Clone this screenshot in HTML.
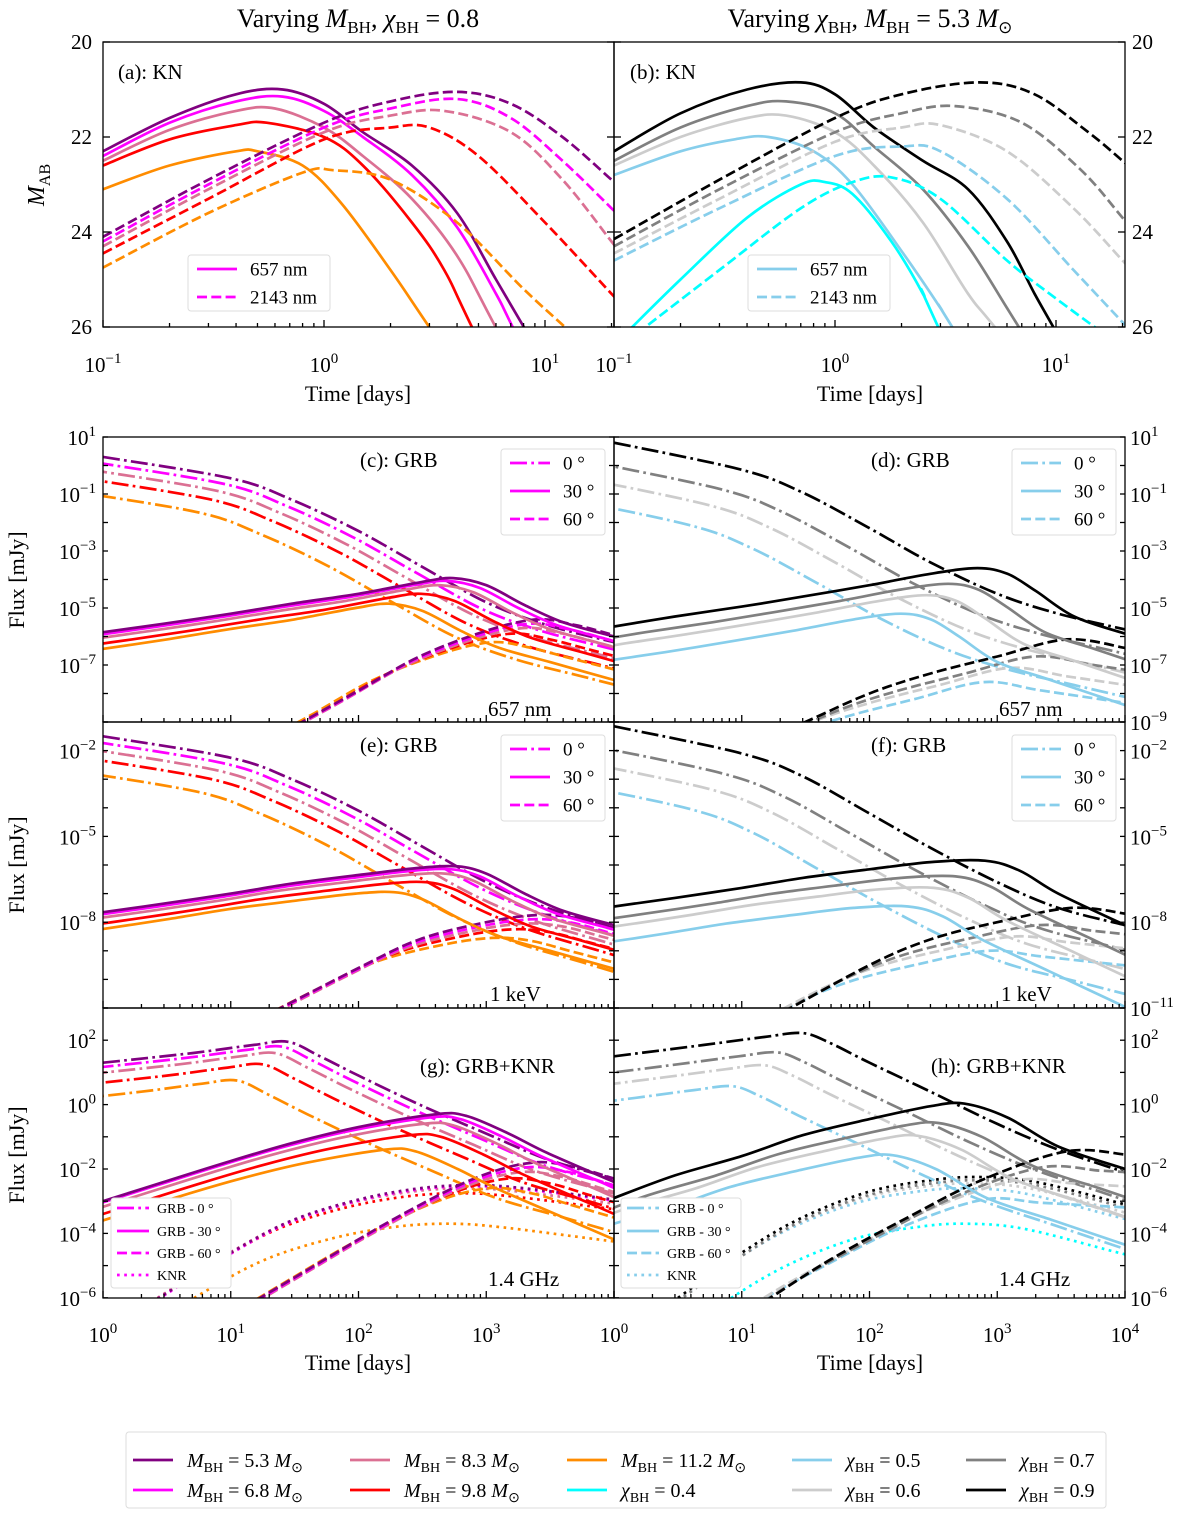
<!DOCTYPE html>
<html><head><meta charset="utf-8">
<style>
html,body{margin:0;padding:0;background:#fff;}
svg{display:block;font-family:"Liberation Serif",serif;}
</style></head>
<body>
<svg id="fig" width="1200" height="1513" viewBox="0 0 1200 1513" xmlns="http://www.w3.org/2000/svg">
<rect x="0" y="0" width="1200" height="1513" fill="#fff"/>
<text x="358" y="27" text-anchor="middle" font-size="26">Varying <tspan font-style="italic">M</tspan><tspan font-size="17" dy="6">BH</tspan><tspan dy="-6">, </tspan><tspan font-style="italic">χ</tspan><tspan font-size="17" dy="6">BH</tspan><tspan dy="-6"> = 0.8</tspan></text>
<text x="870" y="27" text-anchor="middle" font-size="26">Varying <tspan font-style="italic">χ</tspan><tspan font-size="17" dy="6">BH</tspan><tspan dy="-6">, </tspan><tspan font-style="italic">M</tspan><tspan font-size="17" dy="6">BH</tspan><tspan dy="-6"> = 5.3 </tspan><tspan font-style="italic">M</tspan><tspan font-size="17" dy="6">⊙</tspan></text>
<text transform="translate(44,185) rotate(-90)" text-anchor="middle" font-size="24"><tspan font-style="italic">M</tspan><tspan font-size="16" dy="6">AB</tspan></text>
<text transform="translate(24,580) rotate(-90)" text-anchor="middle" font-size="22">Flux [mJy]</text>
<text transform="translate(24,865) rotate(-90)" text-anchor="middle" font-size="22">Flux [mJy]</text>
<text transform="translate(24,1155) rotate(-90)" text-anchor="middle" font-size="22">Flux [mJy]</text>
<text x="358" y="401" text-anchor="middle" font-size="22">Time [days]</text>
<text x="870" y="401" text-anchor="middle" font-size="22">Time [days]</text>
<text x="358" y="1370" text-anchor="middle" font-size="22">Time [days]</text>
<text x="870" y="1370" text-anchor="middle" font-size="22">Time [days]</text>
<g id="plots"></g>
<g id="anno" font-size="21">
<text x="118" y="79">(a): KN</text>
<text x="630" y="79">(b): KN</text>
<text x="360" y="467">(c): GRB</text>
<text x="871" y="467">(d): GRB</text>
<text x="360" y="752">(e): GRB</text>
<text x="871" y="752">(f): GRB</text>
<text x="420" y="1073">(g): GRB+KNR</text>
<text x="931" y="1073">(h): GRB+KNR</text>
<text x="488" y="716">657 nm</text>
<text x="999" y="716">657 nm</text>
<text x="490" y="1001">1 keV</text>
<text x="1001" y="1001">1 keV</text>
<text x="488" y="1286">1.4 GHz</text>
<text x="999" y="1286">1.4 GHz</text>
</g>
<g id="legends"></g>
</svg>
<script>
const leftColors=['#800080','#ff00ff','#db7093','#ff0000','#ff8c00'];
const rightColors=['#000000','#808080','#cccccc','#87ceeb','#00ffff'];
const aSolid=[
 [[0.1,22.3],[0.2,21.6],[0.4,21.1],[0.65,21.0],[1.0,21.3],[1.5,21.9],[2.5,22.6],[4,23.6],[6,25.0],[8.5,26.2]],
 [[0.1,22.4],[0.2,21.7],[0.4,21.25],[0.65,21.15],[1.0,21.45],[1.5,22.0],[2.5,22.8],[4,23.9],[6,25.3],[7.5,26.2]],
 [[0.1,22.5],[0.2,21.85],[0.4,21.45],[0.6,21.4],[1.0,21.8],[1.5,22.4],[2.5,23.3],[4,24.5],[6.3,26.2]],
 [[0.1,22.6],[0.2,22.05],[0.4,21.75],[0.55,21.7],[1.0,22.0],[1.5,22.6],[2.5,23.8],[3.5,24.8],[4.9,26.2]],
 [[0.1,23.1],[0.2,22.6],[0.4,22.3],[0.5,22.3],[0.8,22.6],[1.2,23.4],[2.0,24.8],[3.2,26.2]]];
const aDashed=[
 [[0.1,24.1],[0.3,22.9],[1,21.7],[2,21.25],[4,21.05],[7,21.3],[12,22.0],[20,22.9]],
 [[0.1,24.2],[0.3,23.0],[1,21.8],[2,21.4],[4,21.2],[7,21.6],[12,22.5],[20,23.5]],
 [[0.1,24.3],[0.3,23.1],[1,21.9],[2,21.55],[3.5,21.45],[7,21.9],[12,22.9],[20,24.2]],
 [[0.1,24.45],[0.3,23.3],[1,22.05],[2,21.8],[3,21.8],[5,22.4],[10,23.8],[20,25.3]],
 [[0.1,24.75],[0.3,23.6],[0.8,22.75],[1.1,22.7],[2,22.9],[4,23.8],[8,25.2],[13,26.1]]];
const bSolid=[
 [[0.1,22.3],[0.2,21.5],[0.4,21.0],[0.7,20.85],[1.0,21.1],[1.5,21.8],[2.5,22.5],[4,23.1],[6,24.2],[8,25.3],[10,26.1]],
 [[0.1,22.5],[0.2,21.8],[0.4,21.35],[0.6,21.25],[1,21.5],[1.5,22.2],[2.5,23.1],[4,24.3],[6,25.6],[7,26.1]],
 [[0.1,22.6],[0.2,22.0],[0.4,21.6],[0.6,21.55],[1,21.9],[1.5,22.6],[2.5,23.8],[4,25.3],[5.5,26.1]],
 [[0.1,22.8],[0.2,22.3],[0.35,22.05],[0.5,22.0],[0.8,22.3],[1.2,23.0],[2,24.4],[3,25.6],[3.5,26.1]],
 [[0.115,26.1],[0.2,25.0],[0.4,23.7],[0.7,23.0],[0.9,22.95],[1.2,23.2],[1.8,24.2],[2.5,25.3],[3,26.1]]];
const bDashed=[
 [[0.1,24.15],[0.3,22.9],[1,21.6],[2,21.1],[4.5,20.85],[8,21.1],[14,21.9],[20,22.5]],
 [[0.1,24.3],[0.3,23.1],[1,21.9],[2,21.5],[3.5,21.35],[7,21.7],[13,22.7],[20,23.7]],
 [[0.1,24.45],[0.3,23.3],[1,22.1],[2,21.8],[3,21.75],[6,22.3],[12,23.5],[20,24.6]],
 [[0.1,24.6],[0.3,23.5],[1,22.4],[2,22.2],[3,22.3],[6,23.3],[12,24.8],[20,25.9]],
 [[0.13,26.1],[0.3,24.8],[0.7,23.5],[1.2,22.95],[1.8,22.85],[3,23.3],[6,24.6],[10,25.4],[16,26.1]]];
const cDashDot=[[1,0.3],[10,-0.45],[30,-1.2],[100,-2.3],[300,-3.5],[1000,-4.8],[3000,-5.6],[10000,-6.2]];
const cSolid=[[1,-5.85],[3,-5.55],[10,-5.2],[30,-4.85],[100,-4.5],[300,-4.1],[550,-3.95],[1000,-4.2],[2000,-4.9],[4000,-5.5],[10000,-6.0]];
const cDashed=[[30,-9.2],[100,-7.9],[300,-6.7],[1000,-5.8],[2500,-5.4],[5000,-5.6],[10000,-5.95]];
const eDashDot=[[1,-1.5],[10,-2.25],[30,-3.0],[100,-4.1],[300,-5.3],[1000,-6.6],[3000,-7.5],[10000,-8.2]];
const eSolid=[[1,-7.65],[3,-7.35],[10,-7.0],[30,-6.65],[100,-6.35],[300,-6.1],[600,-6.05],[1000,-6.3],[2000,-7.0],[4000,-7.6],[10000,-8.1]];
const eDashed=[[20,-11.2],[100,-9.6],[300,-8.6],[1000,-8.0],[2500,-7.75],[5000,-7.85],[10000,-8.2]];
const leftDashDotDx=[0,-0.05,-0.1,-0.15,-0.25], leftDashDotDy=[0,-0.2,-0.45,-0.75,-1.2];
const leftSolidDx=[0,-0.05,-0.1,-0.25,-0.5], leftSolidDy=[0,-0.1,-0.25,-0.55,-0.9];
const leftDashedDx=[0,-0.05,-0.1,-0.2,-0.35], leftDashedDy=[0,-0.15,-0.3,-0.5,-0.8];
const dDashDot=[[1,0.8],[10,-0.15],[30,-0.95],[100,-2.2],[300,-3.4],[1000,-4.5],[3000,-5.2],[10000,-5.75]];
const dSolid=[[1,-5.65],[3,-5.3],[10,-4.95],[30,-4.6],[100,-4.2],[300,-3.8],[700,-3.6],[1200,-3.8],[2000,-4.4],[4000,-5.3],[10000,-5.9]];
const dDashed=[[25,-9.2],[100,-8.0],[300,-7.3],[1000,-6.7],[3500,-6.1],[10000,-6.4]];
const fDashDot=[[1,-1.15],[10,-2.1],[30,-2.9],[100,-4.2],[300,-5.4],[1000,-6.6],[3000,-7.5],[10000,-8.1]];
const fSolid=[[1,-7.45],[3,-7.15],[10,-6.8],[30,-6.45],[100,-6.15],[300,-5.9],[800,-5.85],[1500,-6.2],[3000,-7.0],[10000,-8.1]];
const fDashed=[[20,-11.2],[100,-9.5],[300,-8.6],[1000,-8.0],[3800,-7.5],[10000,-7.7]];
const rightDashDotDx=[0,-0.15,-0.25,-0.4], rightDashDotDy=[0,-0.7,-1.25,-1.95];
const rightSolidDx=[0,-0.23,-0.4,-0.6], rightSolidDy=[0,-0.55,-0.95,-1.6];
const rightDashedDx=[0,-0.25,-0.45,-0.65], rightDashedDy=[0,-0.6,-1.0,-1.5];
const gDashDot=[[1,1.3],[5,1.6],[15,1.85],[28,1.95],[50,1.5],[100,0.9],[300,0.0],[1000,-0.9],[3000,-1.7],[10000,-2.3]];
const gSolid=[[1,-3.0],[3,-2.4],[10,-1.75],[30,-1.2],[100,-0.7],[400,-0.3],[700,-0.35],[1500,-0.9],[3000,-1.5],[10000,-2.4]];
const gDashed=[[14,-6.2],[50,-4.9],[200,-3.5],[800,-2.3],[2300,-1.8],[5000,-1.95],[10000,-2.3]];
const gDotted=[[3,-5.9],[10,-4.6],[30,-3.6],[100,-2.95],[300,-2.6],[800,-2.5],[2000,-2.6],[10000,-2.95]];
const gDashDotDx=[0,-0.05,-0.1,-0.2,-0.4], gDashDotDy=[0,-0.15,-0.35,-0.7,-1.2];
const gSolidDx=[0,-0.05,-0.1,-0.2,-0.4], gSolidDy=[0,-0.1,-0.3,-0.65,-1.1];
const gDashedDx=[0,-0.05,-0.1,-0.2,-0.35], gDashedDy=[0,-0.15,-0.3,-0.5,-0.8];
const gDottedDx=[0,0,-0.05,-0.1,-0.2], gDottedDy=[0,-0.03,-0.1,-0.25,-1.2];
const hDashDot=[[1,1.5],[5,1.85],[15,2.1],[30,2.22],[50,1.9],[100,1.3],[300,0.4],[1000,-0.6],[3000,-1.4],[10000,-2.1]];
const hSolid=[[1,-2.9],[3,-2.2],[10,-1.6],[30,-0.95],[100,-0.45],[300,-0.05],[550,0.03],[1200,-0.4],[3000,-1.3],[10000,-2.0]];
const hDashed=[[14,-6.2],[50,-4.8],[200,-3.5],[800,-2.3],[3500,-1.45],[10000,-1.55]];
const hDotted=[[2.7,-6.2],[10,-4.6],[30,-3.5],[100,-2.7],[300,-2.35],[700,-2.25],[2000,-2.4],[10000,-3.1]];
const hDashDotDx=[0,-0.2,-0.3,-0.55], hDashDotDy=[0,-0.6,-1.0,-1.65];
const hSolidDx=[0,-0.2,-0.36,-0.56], hSolidDy=[0,-0.6,-1.0,-1.6];
const hDashedDx=[0,-0.2,-0.4,-0.65], hDashedDy=[0,-0.5,-0.9,-1.5];
const hDottedDx=[0,0,-0.05,-0.1,-0.1], hDottedDy=[0,-0.1,-0.2,-0.35,-1.45];
const cTicksL=[1,-1,-3,-5,-7], dTicksR=[1,-1,-3,-5,-7,-9];
const eTicksL=[-2,-5,-8], fTicksR=[-2,-5,-8,-11];
const gTicksL=[2,0,-2,-4,-6], hTicksR=[2,0,-2,-4,-6];
const magTicks=[20,22,24,26];

const NS='http://www.w3.org/2000/svg';
function el(tag,attrs,parent){const e=document.createElementNS(NS,tag);for(const k in attrs)e.setAttribute(k,attrs[k]);parent.appendChild(e);return e;}
function panel(x0,x1,y0,y1,lx0,dec,vtop,pxu,lin){
  return {x0,x1,y0,y1,lx0,dec,vtop,pxu,lin,lx1:lx0+(x1-x0)/dec,
    X(lt){return this.x0+(lt-this.lx0)*this.dec;},
    Y(v){return this.y0+(this.lin?(v-this.vtop):(this.vtop-v))*this.pxu;}};
}
const P={
 a:panel(103,614,42,327,-1,221,20,47.5,true), b:panel(614,1125,42,327,-1,221,20,47.5,true),
 c:panel(103,614,437,722,0,127.75,1,28.5,false), d:panel(614,1125,437,722,0,127.75,1,28.5,false),
 e:panel(103,614,722,1008,0,127.75,-1,28.6,false), f:panel(614,1125,722,1008,0,127.75,-1,28.6,false),
 g:panel(103,614,1008,1298,0,127.75,3,32.2,false), h:panel(614,1125,1008,1298,0,127.75,3,32.2,false)};
const plots=document.getElementById('plots');
const defs=el('defs',{},plots);
for(const k in P){const p=P[k];const cp=el('clipPath',{id:'clip-'+k},defs);el('rect',{x:p.x0,y:p.y0,width:p.x1-p.x0,height:p.y1-p.y0},cp);}

const DASH={solid:'',dashed:'10 4.3',dashdot:'17 4.3 2.7 4.3',dotted:'2.7 4.5'};
function pathD(pts){
  let d='M'+pts[0][0].toFixed(1)+','+pts[0][1].toFixed(1);
  for(let i=0;i<pts.length-1;i++){
    const p0=pts[i-1]||pts[i],p1=pts[i],p2=pts[i+1],p3=pts[i+2]||p2;
    const c1=[p1[0]+(p2[0]-p0[0])/6,p1[1]+(p2[1]-p0[1])/6];
    const c2=[p2[0]-(p3[0]-p1[0])/6,p2[1]-(p3[1]-p1[1])/6];
    d+=' C'+c1[0].toFixed(1)+','+c1[1].toFixed(1)+' '+c2[0].toFixed(1)+','+c2[1].toFixed(1)+' '+p2[0].toFixed(1)+','+p2[1].toFixed(1);
  }
  return d;
}
function drawCurve(key,data,dx,dy,color,style,name){
  const p=P[key];
  let L=data.map(q=>[Math.log10(q[0])+dx,q[1]+dy]);
  if(L[0][0]>p.lx0){const s=(L[1][1]-L[0][1])/(L[1][0]-L[0][0]);const x=p.lx0-0.05;L.unshift([x,L[0][1]+s*(x-L[0][0])]);}
  const n=L.length;
  if(L[n-1][0]<p.lx1){const s=(L[n-1][1]-L[n-2][1])/(L[n-1][0]-L[n-2][0]);const x=p.lx1+0.05;L.push([x,L[n-1][1]+s*(x-L[n-1][0])]);}
  const pts=L.map(q=>[p.X(q[0]),p.Y(q[1])]);
  const path=el('path',{d:pathD(pts),fill:'none',stroke:color,'stroke-width':2.7,'clip-path':'url(#clip-'+key+')'},plots);
  if(DASH[style])path.setAttribute('stroke-dasharray',DASH[style]);
  
  
}
function group(key,base,dxs,dys,colors,style,label){
  for(let i=dxs.length-1;i>=0;i--)drawCurve(key,base,dxs[i],dys[i],colors[i],style,key+'-'+label+'-'+i);
}
for(let i=4;i>=0;i--){drawCurve('a',aSolid[i],0,0,leftColors[i],'solid','a-657nm-'+i);}
for(let i=4;i>=0;i--){drawCurve('a',aDashed[i],0,0,leftColors[i],'dashed','a-2143nm-'+i);}
for(let i=4;i>=0;i--){drawCurve('b',bSolid[i],0,0,rightColors[i],'solid','b-657nm-'+i);}
for(let i=4;i>=0;i--){drawCurve('b',bDashed[i],0,0,rightColors[i],'dashed','b-2143nm-'+i);}
group('c',cDashDot,leftDashDotDx,leftDashDotDy,leftColors,'dashdot','0deg');
group('c',cDashed,leftDashedDx,leftDashedDy,leftColors,'dashed','60deg');
group('c',cSolid,leftSolidDx,leftSolidDy,leftColors,'solid','30deg');
group('e',eDashDot,leftDashDotDx,leftDashDotDy,leftColors,'dashdot','0deg');
group('e',eDashed,leftDashedDx,leftDashedDy,leftColors,'dashed','60deg');
group('e',eSolid,leftSolidDx,leftSolidDy,leftColors,'solid','30deg');
group('d',dDashDot,rightDashDotDx,rightDashDotDy,rightColors,'dashdot','0deg');
group('d',dDashed,rightDashedDx,rightDashedDy,rightColors,'dashed','60deg');
group('d',dSolid,rightSolidDx,rightSolidDy,rightColors,'solid','30deg');
group('f',fDashDot,rightDashDotDx,rightDashDotDy,rightColors,'dashdot','0deg');
group('f',fDashed,rightDashedDx,rightDashedDy,rightColors,'dashed','60deg');
group('f',fSolid,rightSolidDx,rightSolidDy,rightColors,'solid','30deg');
group('g',gDotted,gDottedDx,gDottedDy,leftColors,'dotted','knr');
group('g',gDashDot,gDashDotDx,gDashDotDy,leftColors,'dashdot','0deg');
group('g',gDashed,gDashedDx,gDashedDy,leftColors,'dashed','60deg');
group('g',gSolid,gSolidDx,gSolidDy,leftColors,'solid','30deg');
group('h',hDotted,hDottedDx,hDottedDy,rightColors,'dotted','knr');
group('h',hDashDot,hDashDotDx,hDashDotDy,rightColors,'dashdot','0deg');
group('h',hDashed,hDashedDx,hDashedDy,rightColors,'dashed','60deg');
group('h',hSolid,hSolidDx,hSolidDy,rightColors,'solid','30deg');

const axes=el('g',{stroke:'#000','stroke-width':1.3,fill:'none'},plots);


function line(x1,y1,x2,y2){el('line',{x1,y1,x2,y2},axes);}
for(const k in P){
  const p=P[k];
  const r=el('rect',{x:p.x0,y:p.y0,width:p.x1-p.x0,height:p.y1-p.y0},axes);
  
  
  for(let d=Math.floor(p.lx0);d<=Math.ceil(p.lx1);d++){
    for(let m=1;m<10;m++){const lt=d+Math.log10(m);if(lt<p.lx0-1e-6||lt>p.lx1+1e-6)continue;
      const x=p.X(lt);const len=m===1?7:4;line(x,p.y1,x,p.y1-len);}
  }
  if(p.lin){for(let v=20;v<=26;v+=2){const y=p.Y(v);line(p.x0,y,p.x0+7,y);line(p.x1,y,p.x1-7,y);}}
  else{const vb=p.vtop-(p.y1-p.y0)/p.pxu;for(let v=Math.ceil(vb);v<=p.vtop;v++){const y=p.Y(v);line(p.x0,y,p.x0+5,y);line(p.x1,y,p.x1-5,y);}}
}
const tl=el('g',{'font-size':21,fill:'#000'},plots);


function pow(x,y,e,anchor,name){
  const t=el('text',{x,y,'text-anchor':anchor},tl);
  
  
  const a=el('tspan',{},t);a.textContent='10';
  const b=el('tspan',{dy:-9,'font-size':15},t);b.textContent=(e<0?'−':'')+Math.abs(e);
}
function plain(x,y,s,anchor,name){const t=el('text',{x,y,'text-anchor':anchor},tl);t.textContent=s;}
magTicks.forEach(v=>{plain(92,P.a.Y(v)+7,String(v),'end','y-tick-a');plain(1132,P.b.Y(v)+7,String(v),'start','y-tick-b');});
[-1,0,1].forEach(e=>{pow(P.a.X(e),372,e,'middle','x-tick-a');pow(P.b.X(e),372,e,'middle','x-tick-b');});
[0,1,2,3].forEach(e=>pow(P.g.X(e),1342,e,'middle','x-tick-g'));
[0,1,2,3,4].forEach(e=>pow(P.h.X(e),1342,e,'middle','x-tick-h'));
cTicksL.forEach(e=>pow(96,P.c.Y(e)+8,e,'end','y-tick-c'));
dTicksR.forEach(e=>pow(1130,P.d.Y(e)+8,e,'start','y-tick-d'));
eTicksL.forEach(e=>pow(96,P.e.Y(e)+8,e,'end','y-tick-e'));
fTicksR.forEach(e=>pow(1130,P.f.Y(e)+8,e,'start','y-tick-f'));
gTicksL.forEach(e=>pow(96,P.g.Y(e)+8,e,'end','y-tick-g'));
hTicksR.forEach(e=>pow(1130,P.h.Y(e)+8,e,'start','y-tick-h'));

const lg=document.getElementById('legends');
function box(x,y,w,h,name){const r=el('rect',{x,y,width:w,height:h,fill:'#fff',stroke:'#ddd','stroke-width':1,rx:3},lg);}
function entry(x1,x2,y,color,style,tx,label,fs,name){
  const l=el('line',{x1,y1:y,x2,y2:y,stroke:color,'stroke-width':2.7},lg);
  if(DASH[style])l.setAttribute('stroke-dasharray',DASH[style]);
  
  
  const t=el('text',{x:tx,y:y+fs*0.35,'font-size':fs},lg);
  t.textContent=label;
  
  
}
box(188,255,142,56,'legend-a');entry(197,237,269,'#ff00ff','solid',250,'657 nm',19,'legend-a-657');entry(197,237,297,'#ff00ff','dashed',250,'2143 nm',19,'legend-a-2143');
box(748,255,142,56,'legend-b');entry(757,797,269,'#87ceeb','solid',810,'657 nm',19,'legend-b-657');entry(757,797,297,'#87ceeb','dashed',810,'2143 nm',19,'legend-b-2143');
[['c',501,449,'#ff00ff'],['d',1012,449,'#87ceeb'],['e',501,735,'#ff00ff'],['f',1012,735,'#87ceeb']].forEach(q=>{
  box(q[1],q[2],104,86,'legend-'+q[0]);
  entry(q[1]+9,q[1]+49,q[2]+14,q[3],'dashdot',q[1]+62,'0 °',19,'legend-'+q[0]+'-0deg');
  entry(q[1]+9,q[1]+49,q[2]+42,q[3],'solid',q[1]+62,'30 °',19,'legend-'+q[0]+'-30deg');
  entry(q[1]+9,q[1]+49,q[2]+70,q[3],'dashed',q[1]+62,'60 °',19,'legend-'+q[0]+'-60deg');
});
[['g',111,'#ff00ff'],['h',621,'#87ceeb']].forEach(q=>{
  box(q[1],1198,120,90,'legend-'+q[0]);
  entry(q[1]+6,q[1]+38,1208,q[2],'dashdot',q[1]+46,'GRB - 0 °',14,'legend-'+q[0]+'-grb0');
  entry(q[1]+6,q[1]+38,1231,q[2],'solid',q[1]+46,'GRB - 30 °',14,'legend-'+q[0]+'-grb30');
  entry(q[1]+6,q[1]+38,1253,q[2],'dashed',q[1]+46,'GRB - 60 °',14,'legend-'+q[0]+'-grb60');
  entry(q[1]+6,q[1]+38,1275,q[2],'dotted',q[1]+46,'KNR',14,'legend-'+q[0]+'-knr');
});
box(126,1432,980,76,'legend-main');
function mEntry(x,y,color,html,name){
  const l=el('line',{x1:x,y1:y,x2:x+40,y2:y,stroke:color,'stroke-width':2.7},lg);
  
  
  const t=el('text',{x:x+54,y:y+7,'font-size':20},lg);
  t.innerHTML=html;
  
  
}
const M=v=>'<tspan font-style="italic">M</tspan><tspan font-size="14" dy="5">BH</tspan><tspan dy="-5"> = '+v+' </tspan><tspan font-style="italic">M</tspan><tspan font-size="14" dy="5">⊙</tspan>';
const C=v=>'<tspan font-style="italic">χ</tspan><tspan font-size="14" dy="5">BH</tspan><tspan dy="-5"> = '+v+'</tspan>';
mEntry(133,1460,'#800080',M('5.3'),'legend-mbh-5.3');
mEntry(133,1490,'#ff00ff',M('6.8'),'legend-mbh-6.8');
mEntry(350,1460,'#db7093',M('8.3'),'legend-mbh-8.3');
mEntry(350,1490,'#ff0000',M('9.8'),'legend-mbh-9.8');
mEntry(567,1460,'#ff8c00',M('11.2'),'legend-mbh-11.2');
mEntry(567,1490,'#00ffff',C('0.4'),'legend-chi-0.4');
mEntry(792,1460,'#87ceeb',C('0.5'),'legend-chi-0.5');
mEntry(792,1490,'#cccccc',C('0.6'),'legend-chi-0.6');
mEntry(966,1460,'#808080',C('0.7'),'legend-chi-0.7');
mEntry(966,1490,'#000000',C('0.9'),'legend-chi-0.9');
</script>
</body></html>
